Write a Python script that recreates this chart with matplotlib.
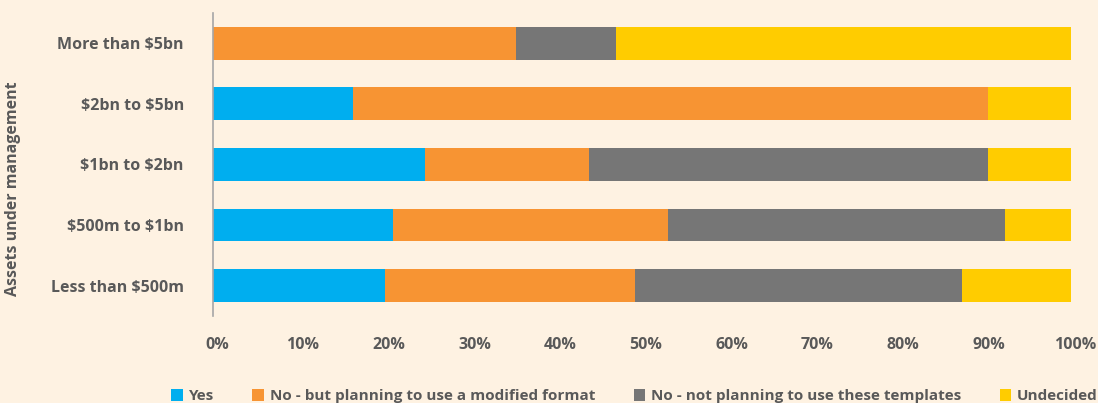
import matplotlib.pyplot as plt
import matplotlib.transforms as mtransforms
import numpy as np

categories = [r"More than \$5bn", r"\$2bn to \$5bn", r"\$1bn to \$2bn",
              r"\$500m to \$1bn", r"Less than \$500m"]
yes = [0, 16.3, 24.7, 21.0, 20.0]
no_modified = [35.3, 74.1, 19.1, 32.0, 29.2]
no_not_planning = [11.7, 0, 46.6, 39.3, 38.1]
undecided = [53.0, 9.6, 9.6, 7.7, 12.7]

series_names = ["Yes", "No - but planning to use a modified format",
                "No - not planning to use these templates", "Undecided"]
colors = ["#00AEEF", "#F79433", "#767676", "#FFCC00"]
bg = "#FEF2E2"
txt = "#595959"

plt.rcParams['font.family'] = ['Open Sans', 'DejaVu Sans']
plt.rcParams['font.weight'] = 'bold'

fig = plt.figure(figsize=(10.98, 4.03), dpi=100, facecolor=bg)
ax = fig.add_axes([0.194, 0.216, 0.781, 0.752], facecolor=bg)

y = np.arange(len(categories))
left = np.zeros(len(categories))
for vals, name, c in zip([yes, no_modified, no_not_planning, undecided],
                         series_names, colors):
    ax.barh(y, vals, left=left, height=0.54, color=c, label=name)
    left += np.array(vals)

ax.set_ylim(4.5, -0.5)
ax.set_xlim(0, 100)
ax.set_yticks(y)
ax.set_yticklabels(categories, fontsize=11.5, color=txt, fontweight='bold')
ax.set_xticks(np.arange(0, 101, 10))
ax.set_xticklabels([f"{v}%" for v in range(0, 101, 10)], fontsize=11.5,
                   color=txt, fontweight='bold')
ax.tick_params(axis='both', length=0)
ax.tick_params(axis='x', pad=15)
ax.tick_params(axis='y', pad=21)
shift = mtransforms.ScaledTranslation(3 / 72, 0, fig.dpi_scale_trans)
for lab in ax.get_xticklabels():
    lab.set_transform(lab.get_transform() + shift)
for s in ['top', 'right', 'bottom']:
    ax.spines[s].set_visible(False)
ax.spines['left'].set_color('#A6A6A6')
ax.spines['left'].set_linewidth(1.2)

fig.text(0.012, 0.533, "Assets under management", rotation=90, ha='center',
         va='center', fontsize=11.5, color=txt, fontweight='bold')

leg = fig.legend(loc='lower center', bbox_to_anchor=(0.578, -0.035), ncol=4,
                 frameon=False, fontsize=11, handlelength=0.75,
                 handleheight=0.75, handletextpad=0.4, columnspacing=2.5)
for t in leg.get_texts():
    t.set_color(txt)

fig.savefig("out.png", facecolor=bg)
